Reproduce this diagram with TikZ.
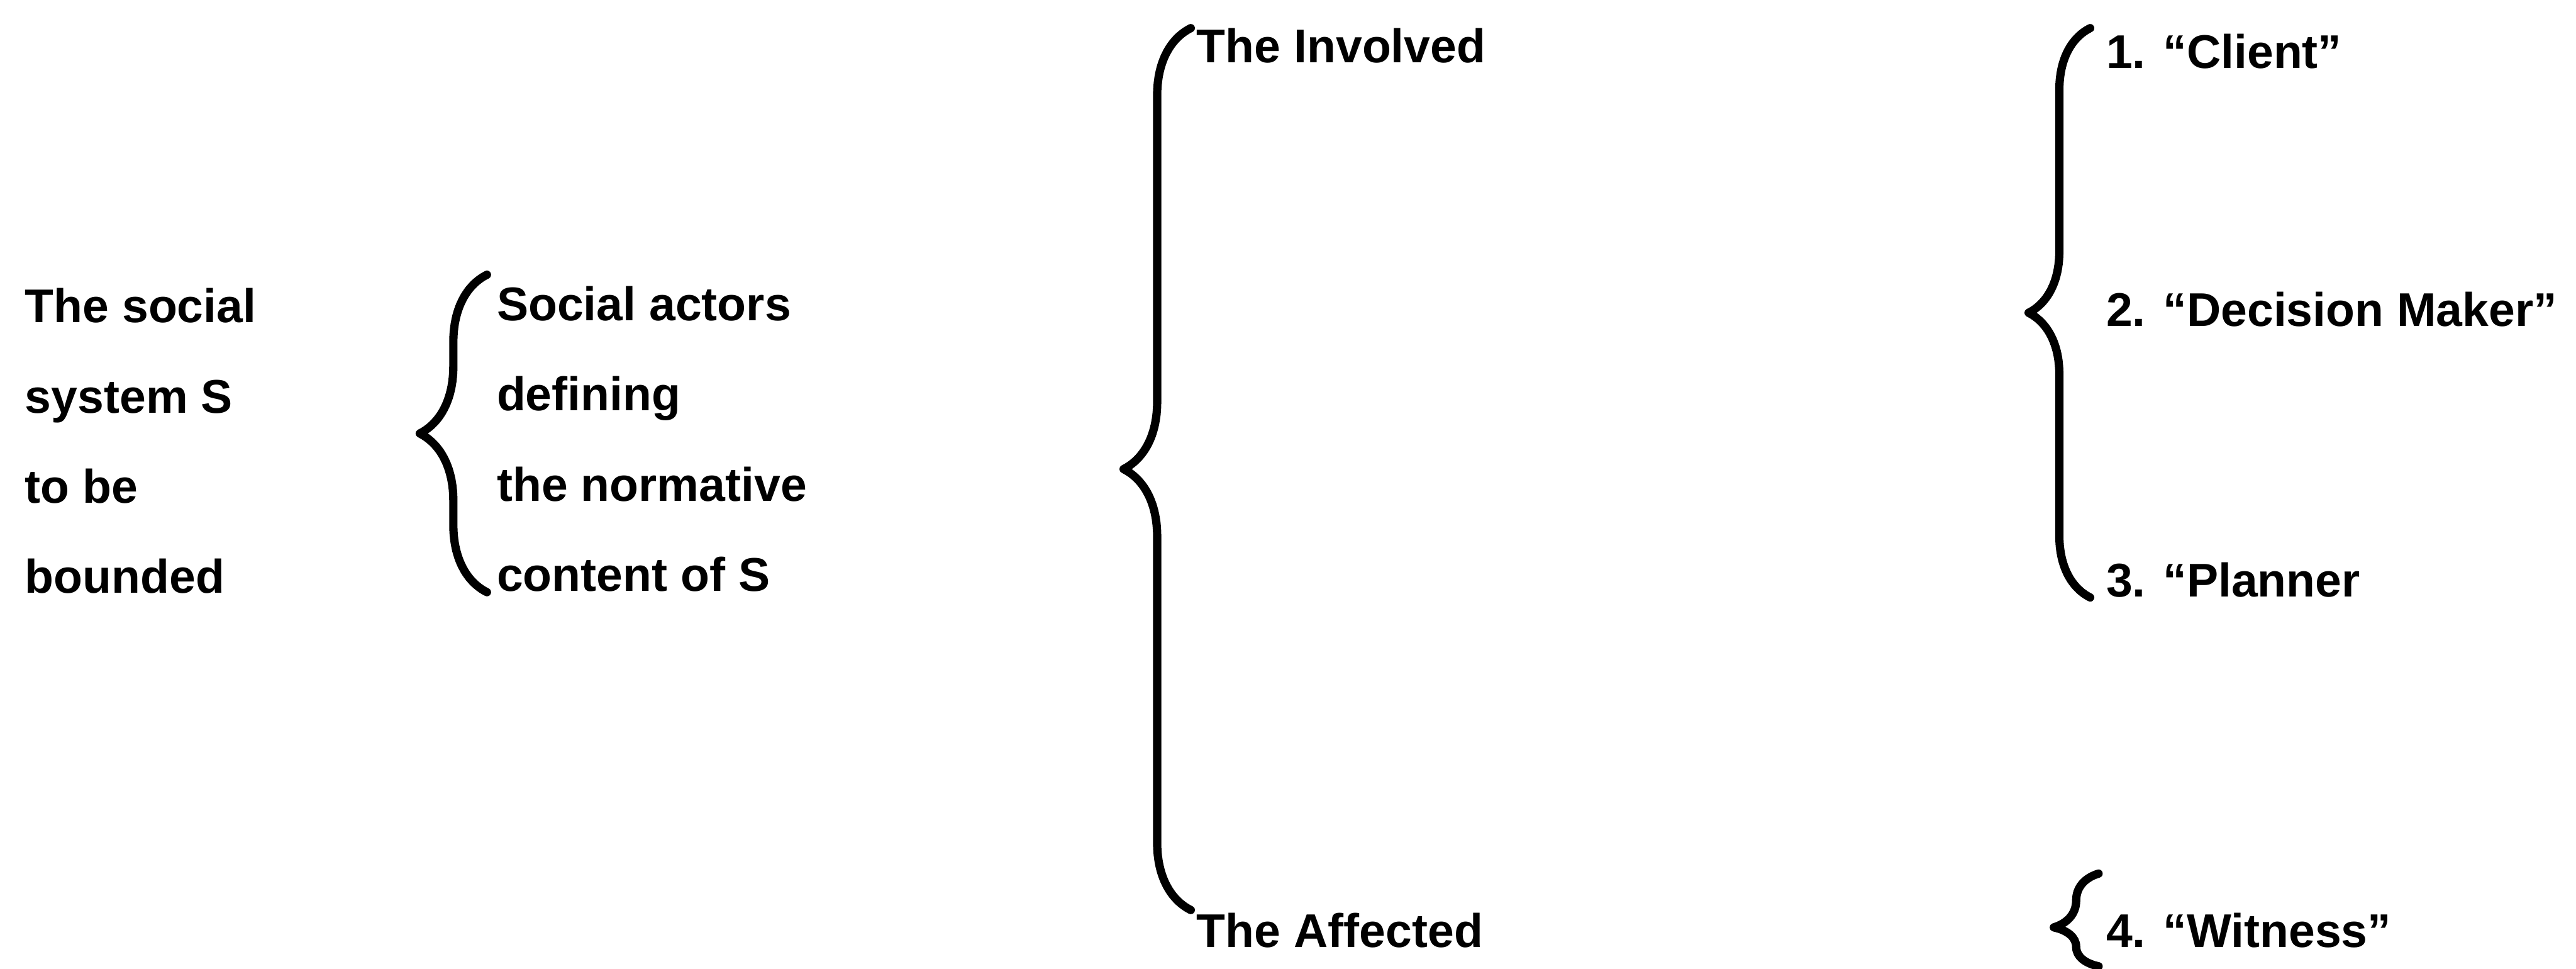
\documentclass[tikz,border=0pt]{standalone}
\usepackage{fontspec}
\setmainfont{Liberation Sans}
\usetikzlibrary{positioning, calc, decorations.pathreplacing}

\begin{document}
\begin{tikzpicture}[
    font=\fontsize{24}{45.8}\selectfont\bfseries,
    col/.style  ={inner sep=0pt, align=left, anchor=north west},
    lbl/.style  ={inner sep=0pt, anchor=base west},
    brc/.style  ={decorate, line width=4.2pt, line cap=round, line join=round,
                  decoration={brace, amplitude=#1}},
    brc/.default=12mm,
]

% =============== Page frame ===============
\path[use as bounding box, fill=white] (0,0) rectangle (45.97,-17.28);

% =============== System and its actors ===============
\node[col] (sys)    at (0.44,-5.135) {The social\\system S\\to be\\bounded};
\node[col] (actors) at (8.86,-5.10)  {Social actors\\defining\\the normative\\content of S};

% =============== Involved / Affected ===============
\node[lbl] (inv) at (21.35,-1.12)  {The Involved};
\node[lbl] (aff) at (21.35,-16.90) {The Affected};

% =============== Roles ===============
\node[lbl] (cli) at (37.58,-1.22)  {1. “Client”};
\node[lbl] (dm)  at (37.58,-5.82)  {2. “Decision Maker”};
\node[lbl] (pln) at (37.58,-10.64) {3. “Planner};
\node[lbl] (wit) at (37.58,-16.90) {4. “Witness”};

% =============== Braces ===============
\draw[brc] ([shift={(-1.7mm,0mm)}]actors.south west)
        -- ([shift={(-1.7mm,2mm)}]actors.north west);
\draw[brc] ([shift={(-1mm,0.5mm)}]aff.north west)
        -- ([shift={(-1mm,0mm)}]inv.north west);
\draw[brc=11mm] ([shift={(-2.8mm,0mm)}]pln.south west)
        -- ([shift={(-2.8mm,1mm)}]cli.north west);
\draw[brc=8mm, decoration={aspect=0.42}] ([shift={(-1.3mm,-3.2mm)}]wit.south west)
        -- ([shift={(-1.3mm,7mm)}]wit.north west);

\end{tikzpicture}
\end{document}
